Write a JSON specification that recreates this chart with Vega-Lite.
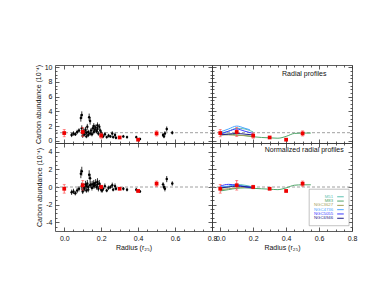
{
"$schema": "https://vega.github.io/schema/vega-lite/v6.json",
"background": "white",
"padding": {"left": 34, "top": 63, "right": 30, "bottom": 30},
"config": {
  "view": {"stroke": null},
  "font": "Liberation Sans",
  "axis": {"grid": false, "domainColor": "#333", "tickColor": "#333", "domainWidth": 0.8, "tickWidth": 0.8,
    "labelFont": "Liberation Sans", "labelFontSize": 7, "labelColor": "#111", "labelPadding": 7,
    "titleFont": "Liberation Sans", "titleFontSize": 7, "titleFontWeight": "normal", "titleColor": "#111",
    "labelFlush": false, "labelOverlap": false}
},
"datasets": {
  "pts": [
    {"x":0.04,"t":0.8,"te":0.3,"b":-0.6,"be":0.3},
    {"x":0.05,"t":1.0,"te":0.3,"b":-0.5,"be":0.3},
    {"x":0.06,"t":0.9,"te":0.25,"b":-0.7,"be":0.25},
    {"x":0.07,"t":1.2,"te":0.3,"b":-0.4,"be":0.3},
    {"x":0.08,"t":1.4,"te":0.3,"b":-0.2,"be":0.3},
    {"x":0.09,"t":3.1,"te":0.5,"b":1.5,"be":0.5},
    {"x":0.095,"t":3.5,"te":0.5,"b":1.8,"be":0.5},
    {"x":0.095,"t":1.7,"te":0.4,"b":0.1,"be":0.4},
    {"x":0.1,"t":1.0,"te":0.3,"b":-0.3,"be":0.3},
    {"x":0.1,"t":0.7,"te":0.3,"b":-0.5,"be":0.3},
    {"x":0.105,"t":1.3,"te":0.4,"b":0.0,"be":0.4},
    {"x":0.11,"t":0.9,"te":0.3,"b":-0.2,"be":0.3},
    {"x":0.115,"t":1.5,"te":0.4,"b":0.3,"be":0.4},
    {"x":0.12,"t":1.1,"te":0.3,"b":0.1,"be":0.3},
    {"x":0.12,"t":0.6,"te":0.25,"b":-0.4,"be":0.25},
    {"x":0.125,"t":1.9,"te":0.4,"b":0.4,"be":0.4},
    {"x":0.13,"t":1.2,"te":0.3,"b":0.0,"be":0.3},
    {"x":0.13,"t":0.8,"te":0.3,"b":-0.3,"be":0.3},
    {"x":0.135,"t":3.2,"te":0.5,"b":1.4,"be":0.5},
    {"x":0.14,"t":2.7,"te":0.5,"b":1.0,"be":0.5},
    {"x":0.14,"t":1.0,"te":0.3,"b":0.2,"be":0.3},
    {"x":0.145,"t":1.4,"te":0.35,"b":0.3,"be":0.35},
    {"x":0.15,"t":0.9,"te":0.3,"b":-0.1,"be":0.3},
    {"x":0.155,"t":1.7,"te":0.4,"b":0.3,"be":0.4},
    {"x":0.16,"t":1.2,"te":0.3,"b":0.1,"be":0.3},
    {"x":0.16,"t":2.0,"te":0.4,"b":0.4,"be":0.4},
    {"x":0.165,"t":1.5,"te":0.35,"b":0.2,"be":0.35},
    {"x":0.17,"t":1.8,"te":0.4,"b":0.5,"be":0.4},
    {"x":0.175,"t":1.3,"te":0.3,"b":0.0,"be":0.3},
    {"x":0.18,"t":2.1,"te":0.4,"b":0.6,"be":0.4},
    {"x":0.18,"t":1.6,"te":0.35,"b":0.3,"be":0.35},
    {"x":0.185,"t":1.0,"te":0.3,"b":-0.2,"be":0.3},
    {"x":0.19,"t":1.9,"te":0.4,"b":0.4,"be":0.4},
    {"x":0.195,"t":1.4,"te":0.3,"b":0.1,"be":0.3},
    {"x":0.2,"t":1.1,"te":0.3,"b":-0.3,"be":0.3},
    {"x":0.205,"t":0.8,"te":0.25,"b":-0.4,"be":0.25},
    {"x":0.21,"t":0.6,"te":0.25,"b":-0.2,"be":0.25},
    {"x":0.22,"t":0.9,"te":0.3,"b":0.1,"be":0.3},
    {"x":0.23,"t":0.5,"te":0.2,"b":-0.4,"be":0.2},
    {"x":0.24,"t":0.7,"te":0.25,"b":-0.1,"be":0.25},
    {"x":0.25,"t":0.6,"te":0.2,"b":0.0,"be":0.2},
    {"x":0.26,"t":1.0,"te":0.3,"b":0.2,"be":0.3},
    {"x":0.265,"t":0.5,"te":0.2,"b":-0.3,"be":0.2},
    {"x":0.275,"t":0.8,"te":0.3,"b":0.1,"be":0.3},
    {"x":0.28,"t":0.4,"te":0.2,"b":-0.2,"be":0.2},
    {"x":0.32,"t":0.6,"te":0.2,"b":-0.2,"be":0.2},
    {"x":0.34,"t":0.5,"te":0.2,"b":-0.3,"be":0.2},
    {"x":0.39,"t":0.5,"te":0.2,"b":-0.3,"be":0.2},
    {"x":0.41,"t":0.25,"te":0.15,"b":-0.5,"be":0.15},
    {"x":0.535,"t":0.8,"te":0.25,"b":0.3,"be":0.25},
    {"x":0.54,"t":0.6,"te":0.25,"b":0.0,"be":0.25},
    {"x":0.545,"t":1.0,"te":0.3,"b":-0.2,"be":0.3},
    {"x":0.555,"t":1.6,"te":0.35,"b":0.9,"be":0.35},
    {"x":0.585,"t":1.1,"te":0.25,"b":0.4,"be":0.25}
  ],
  "red": [
    {"x":0.0,"t":1.05,"te":0.5,"b":-0.2,"be":0.5},
    {"x":0.1,"t":1.2,"te":0.6,"b":0.2,"be":0.55},
    {"x":0.2,"t":0.7,"te":0.35,"b":0.0,"be":0.2},
    {"x":0.3,"t":0.45,"te":0.1,"b":-0.2,"be":0.1},
    {"x":0.4,"t":0.15,"te":0.1,"b":-0.45,"be":0.1},
    {"x":0.5,"t":1.0,"te":0.35,"b":0.38,"be":0.3}
  ],
  "lines": [
    {"g":"M51","x":0.0,"t":1.0,"b":-0.2},{"g":"M51","x":0.05,"t":1.3,"b":0.05},{"g":"M51","x":0.1,"t":1.7,"b":0.3},{"g":"M51","x":0.15,"t":1.6,"b":0.2},{"g":"M51","x":0.2,"t":1.2,"b":0.0},
    {"g":"M83","x":0.0,"t":0.9,"b":-0.45},{"g":"M83","x":0.05,"t":0.9,"b":-0.3},{"g":"M83","x":0.1,"t":0.8,"b":-0.15},{"g":"M83","x":0.15,"t":0.7,"b":-0.1},{"g":"M83","x":0.2,"t":0.55,"b":-0.15},{"g":"M83","x":0.25,"t":0.45,"b":-0.2},{"g":"M83","x":0.3,"t":0.4,"b":-0.25},{"g":"M83","x":0.35,"t":0.35,"b":-0.3},{"g":"M83","x":0.4,"t":0.6,"b":-0.1},{"g":"M83","x":0.45,"t":1.0,"b":0.2},{"g":"M83","x":0.5,"t":1.05,"b":0.25},{"g":"M83","x":0.55,"t":1.05,"b":0.25},
    {"g":"NGC3627","x":0.0,"t":0.8,"b":-0.3},{"g":"NGC3627","x":0.05,"t":0.8,"b":-0.2},{"g":"NGC3627","x":0.1,"t":0.75,"b":-0.1},{"g":"NGC3627","x":0.15,"t":0.7,"b":-0.05},{"g":"NGC3627","x":0.2,"t":0.6,"b":-0.1},
    {"g":"NGC4736","x":0.0,"t":1.2,"b":0.0},{"g":"NGC4736","x":0.05,"t":1.6,"b":0.1},{"g":"NGC4736","x":0.1,"t":2.0,"b":0.2},{"g":"NGC4736","x":0.15,"t":1.7,"b":0.1},{"g":"NGC4736","x":0.18,"t":1.5,"b":0.05},
    {"g":"NGC5055","x":0.0,"t":0.9,"b":0.1},{"g":"NGC5055","x":0.05,"t":1.3,"b":0.3},{"g":"NGC5055","x":0.1,"t":1.6,"b":0.2},{"g":"NGC5055","x":0.15,"t":1.3,"b":0.0},{"g":"NGC5055","x":0.2,"t":1.0,"b":-0.1},
    {"g":"NGC6946","x":0.0,"t":0.8,"b":-0.1},{"g":"NGC6946","x":0.05,"t":0.9,"b":0.0},{"g":"NGC6946","x":0.1,"t":1.0,"b":0.1},{"g":"NGC6946","x":0.15,"t":0.9,"b":0.05},{"g":"NGC6946","x":0.2,"t":0.8,"b":-0.05}
  ],
  "gal": [{"g":"M51"},{"g":"M83"},{"g":"NGC3627"},{"g":"NGC4736"},{"g":"NGC5055"},{"g":"NGC6946"}]
},
"spacing": 0,
"bounds": "flush",
"columns": 2,
"resolve": {"scale": {"color": "independent"}, "legend": {"color": "independent"}},
"concat": [
  {"width": 157, "height": 78,
   "resolve": {"axis": {"x": "independent", "y": "independent"}},
   "layer": [
    {"data":{"values":[{}]},"mark":{"type":"point","opacity":0},"encoding":{
      "x":{"datum":0,"type":"quantitative","scale":{"domain":[-0.05,0.8],"nice":false,"zero":false},"axis":{"orient":"bottom","values":[0,0.2,0.4,0.6,0.8],"tickSize":-4,"labels":false,"title":null}},
      "y":{"datum":0,"type":"quantitative","scale":{"domain":[-0.3,10.3],"nice":false,"zero":false},"axis":{"orient":"left","values":[0,2,4,6,8,10],"tickSize":-4,"labelExpr":"''+datum.value","title":"Carbon abundance (10⁻⁴)","titlePadding":3}}}},
    {"data":{"values":[{}]},"mark":{"type":"point","opacity":0},"encoding":{
      "x":{"datum":0,"type":"quantitative","axis":{"orient":"top","values":[0,0.2,0.4,0.6,0.8],"tickSize":-4,"labels":false,"title":null}},
      "y":{"datum":0,"type":"quantitative","axis":{"orient":"right","values":[0,2,4,6,8,10],"tickSize":-4,"labels":false,"title":null}}}},
    {"data":{"values":[{}]},"mark":{"type":"point","opacity":0},"encoding":{
      "x":{"datum":0,"type":"quantitative","axis":{"orient":"bottom","values":[0.05,0.1,0.15,0.25,0.3,0.35,0.45,0.5,0.55,0.65,0.7,0.75],"tickSize":-2,"labels":false,"domain":false,"title":null}},
      "y":{"datum":0,"type":"quantitative","axis":{"orient":"left","values":[0.5,1,1.5,2.5,3,3.5,4.5,5,5.5,6.5,7,7.5,8.5,9,9.5],"tickSize":-2,"labels":false,"domain":false,"title":null}}}},
    {"data":{"values":[{}]},"mark":{"type":"point","opacity":0},"encoding":{
      "x":{"datum":0,"type":"quantitative","axis":{"orient":"top","values":[0.05,0.1,0.15,0.25,0.3,0.35,0.45,0.5,0.55,0.65,0.7,0.75],"tickSize":-2,"labels":false,"domain":false,"title":null}},
      "y":{"datum":0,"type":"quantitative","axis":{"orient":"right","values":[0.5,1,1.5,2.5,3,3.5,4.5,5,5.5,6.5,7,7.5,8.5,9,9.5],"tickSize":-2,"labels":false,"domain":false,"title":null}}}},
    {"data":{"values":[{"a":-0.05,"c":0.8,"y":1.1}]},"mark":{"type":"rule","strokeDash":[3,2],"color":"#888","strokeWidth":0.8},"encoding":{
      "x":{"field":"a","type":"quantitative","axis":null},"x2":{"field":"c"},"y":{"field":"y","type":"quantitative","axis":null}}},
    {"data":{"name":"pts"},"mark":{"type":"errorbar","color":"#000","thickness":0.8},"encoding":{
      "x":{"field":"x","type":"quantitative","axis":null},"y":{"field":"t","type":"quantitative","axis":null},"yError":{"field":"te"}}},
    {"data":{"name":"pts"},"mark":{"type":"circle","color":"#000","size":6,"opacity":1},"encoding":{
      "x":{"field":"x","type":"quantitative","axis":null},"y":{"field":"t","type":"quantitative","axis":null}}},
    {"data":{"name":"red"},"mark":{"type":"errorbar","color":"#ff4a4a","thickness":0.8,"ticks":true,"size":3},"encoding":{
      "x":{"field":"x","type":"quantitative","axis":null},"y":{"field":"t","type":"quantitative","axis":null},"yError":{"field":"te"}}},
    {"data":{"name":"red"},"mark":{"type":"square","color":"#ee0000","size":14,"opacity":1},"encoding":{
      "x":{"field":"x","type":"quantitative","axis":null},"y":{"field":"t","type":"quantitative","axis":null}}}
   ]},
  {"width": 140, "height": 78,
   "resolve": {"axis": {"x": "independent", "y": "independent"}},
   "layer": [
    {"data":{"values":[{}]},"mark":{"type":"point","opacity":0},"encoding":{
      "x":{"datum":0,"type":"quantitative","scale":{"domain":[-0.05,0.8],"nice":false,"zero":false},"axis":{"orient":"bottom","values":[0,0.2,0.4,0.6,0.8],"tickSize":-4,"labels":false,"title":null}},
      "y":{"datum":0,"type":"quantitative","scale":{"domain":[-0.3,10.3],"nice":false,"zero":false},"axis":{"orient":"left","values":[0,2,4,6,8,10],"tickSize":-4,"labels":false,"title":null}}}},
    {"data":{"values":[{}]},"mark":{"type":"point","opacity":0},"encoding":{
      "x":{"datum":0,"type":"quantitative","axis":{"orient":"top","values":[0,0.2,0.4,0.6,0.8],"tickSize":-4,"labels":false,"title":null}},
      "y":{"datum":0,"type":"quantitative","axis":{"orient":"right","values":[0,2,4,6,8,10],"tickSize":-4,"labels":false,"title":null}}}},
    {"data":{"values":[{}]},"mark":{"type":"point","opacity":0},"encoding":{
      "x":{"datum":0,"type":"quantitative","axis":{"orient":"bottom","values":[0.05,0.1,0.15,0.25,0.3,0.35,0.45,0.5,0.55,0.65,0.7,0.75],"tickSize":-2,"labels":false,"domain":false,"title":null}},
      "y":{"datum":0,"type":"quantitative","axis":{"orient":"left","values":[0.5,1,1.5,2.5,3,3.5,4.5,5,5.5,6.5,7,7.5,8.5,9,9.5],"tickSize":-2,"labels":false,"domain":false,"title":null}}}},
    {"data":{"values":[{}]},"mark":{"type":"point","opacity":0},"encoding":{
      "x":{"datum":0,"type":"quantitative","axis":{"orient":"top","values":[0.05,0.1,0.15,0.25,0.3,0.35,0.45,0.5,0.55,0.65,0.7,0.75],"tickSize":-2,"labels":false,"domain":false,"title":null}},
      "y":{"datum":0,"type":"quantitative","axis":{"orient":"right","values":[0.5,1,1.5,2.5,3,3.5,4.5,5,5.5,6.5,7,7.5,8.5,9,9.5],"tickSize":-2,"labels":false,"domain":false,"title":null}}}},
    {"data":{"values":[{"a":-0.05,"c":0.8,"y":1.1}]},"mark":{"type":"rule","strokeDash":[3,2],"color":"#888","strokeWidth":0.8},"encoding":{
      "x":{"field":"a","type":"quantitative","axis":null},"x2":{"field":"c"},"y":{"field":"y","type":"quantitative","axis":null}}},
    {"data":{"name":"lines"},"mark":{"type":"line","strokeWidth":1,"interpolate":"monotone"},"encoding":{
      "x":{"field":"x","type":"quantitative","axis":null},"y":{"field":"t","type":"quantitative","axis":null},
      "color":{"field":"g","type":"nominal","scale":{"domain":["M51","M83","NGC3627","NGC4736","NGC5055","NGC6946"],"range":["#5fc2b2","#52a66a","#a0a05a","#4aa6ff","#3a3aff","#20208a"]},"legend":null}}},
    {"data":{"name":"red"},"mark":{"type":"errorbar","color":"#ff4a4a","thickness":0.8,"ticks":true,"size":3},"encoding":{
      "x":{"field":"x","type":"quantitative","axis":null},"y":{"field":"t","type":"quantitative","axis":null},"yError":{"field":"te"}}},
    {"data":{"name":"red"},"mark":{"type":"square","color":"#ee0000","size":14,"opacity":1},"encoding":{
      "x":{"field":"x","type":"quantitative","axis":null},"y":{"field":"t","type":"quantitative","axis":null}}},
    {"data":{"values":[{"x":0.51,"y":9.1,"s":"Radial profiles"}]},"mark":{"type":"text","fontSize":7,"align":"center","baseline":"middle","color":"#111"},"encoding":{
      "x":{"field":"x","type":"quantitative","axis":null},"y":{"field":"y","type":"quantitative","axis":null},"text":{"field":"s"}}}
   ]},
  {"width": 157, "height": 88,
   "resolve": {"axis": {"x": "independent", "y": "independent"}},
   "layer": [
    {"data":{"values":[{}]},"mark":{"type":"point","opacity":0},"encoding":{
      "x":{"datum":0,"type":"quantitative","scale":{"domain":[-0.05,0.8],"nice":false,"zero":false},"axis":{"orient":"bottom","values":[0,0.2,0.4,0.6,0.8],"tickSize":-4,"format":".1f","title":"Radius (r₂₅)","titlePadding":2}},
      "y":{"datum":0,"type":"quantitative","scale":{"domain":[-5,5],"nice":false,"zero":false},"axis":{"orient":"left","values":[-4,-2,0,2,4],"tickSize":-4,"labelExpr":"''+datum.value","title":"Carbon abundance (10⁻⁴)","titlePadding":3}}}},
    {"data":{"values":[{}]},"mark":{"type":"point","opacity":0},"encoding":{
      "x":{"datum":0,"type":"quantitative","axis":{"orient":"top","values":[0,0.2,0.4,0.6,0.8],"tickSize":-4,"labels":false,"title":null}},
      "y":{"datum":0,"type":"quantitative","axis":{"orient":"right","values":[-4,-2,0,2,4],"tickSize":-4,"labels":false,"title":null}}}},
    {"data":{"values":[{}]},"mark":{"type":"point","opacity":0},"encoding":{
      "x":{"datum":0,"type":"quantitative","axis":{"orient":"bottom","values":[0.05,0.1,0.15,0.25,0.3,0.35,0.45,0.5,0.55,0.65,0.7,0.75],"tickSize":-2,"labels":false,"domain":false,"title":null}},
      "y":{"datum":0,"type":"quantitative","axis":{"orient":"left","values":[-4.5,-3.5,-3,-2.5,-1.5,-1,-0.5,0.5,1,1.5,2.5,3,3.5,4.5],"tickSize":-2,"labels":false,"domain":false,"title":null}}}},
    {"data":{"values":[{}]},"mark":{"type":"point","opacity":0},"encoding":{
      "x":{"datum":0,"type":"quantitative","axis":{"orient":"top","values":[0.05,0.1,0.15,0.25,0.3,0.35,0.45,0.5,0.55,0.65,0.7,0.75],"tickSize":-2,"labels":false,"domain":false,"title":null}},
      "y":{"datum":0,"type":"quantitative","axis":{"orient":"right","values":[-4.5,-3.5,-3,-2.5,-1.5,-1,-0.5,0.5,1,1.5,2.5,3,3.5,4.5],"tickSize":-2,"labels":false,"domain":false,"title":null}}}},
    {"data":{"values":[{"a":-0.05,"c":0.8,"y":0}]},"mark":{"type":"rule","strokeDash":[3,2],"color":"#888","strokeWidth":0.8},"encoding":{
      "x":{"field":"a","type":"quantitative","axis":null},"x2":{"field":"c"},"y":{"field":"y","type":"quantitative","axis":null}}},
    {"data":{"name":"pts"},"mark":{"type":"errorbar","color":"#000","thickness":0.8},"encoding":{
      "x":{"field":"x","type":"quantitative","axis":null},"y":{"field":"b","type":"quantitative","axis":null},"yError":{"field":"be"}}},
    {"data":{"name":"pts"},"mark":{"type":"circle","color":"#000","size":6,"opacity":1},"encoding":{
      "x":{"field":"x","type":"quantitative","axis":null},"y":{"field":"b","type":"quantitative","axis":null}}},
    {"data":{"name":"red"},"mark":{"type":"errorbar","color":"#ff4a4a","thickness":0.8,"ticks":true,"size":3},"encoding":{
      "x":{"field":"x","type":"quantitative","axis":null},"y":{"field":"b","type":"quantitative","axis":null},"yError":{"field":"be"}}},
    {"data":{"name":"red"},"mark":{"type":"square","color":"#ee0000","size":14,"opacity":1},"encoding":{
      "x":{"field":"x","type":"quantitative","axis":null},"y":{"field":"b","type":"quantitative","axis":null}}}
   ]},
  {"width": 140, "height": 88,
   "resolve": {"axis": {"x": "independent", "y": "independent"}},
   "layer": [
    {"data":{"values":[{}]},"mark":{"type":"point","opacity":0},"encoding":{
      "x":{"datum":0,"type":"quantitative","scale":{"domain":[-0.05,0.8],"nice":false,"zero":false},"axis":{"orient":"bottom","values":[0,0.2,0.4,0.6,0.8],"tickSize":-4,"format":".1f","title":"Radius (r₂₅)","titlePadding":2}},
      "y":{"datum":0,"type":"quantitative","scale":{"domain":[-5,5],"nice":false,"zero":false},"axis":{"orient":"left","values":[-4,-2,0,2,4],"tickSize":-4,"labels":false,"title":null}}}},
    {"data":{"values":[{}]},"mark":{"type":"point","opacity":0},"encoding":{
      "x":{"datum":0,"type":"quantitative","axis":{"orient":"top","values":[0,0.2,0.4,0.6,0.8],"tickSize":-4,"labels":false,"title":null}},
      "y":{"datum":0,"type":"quantitative","axis":{"orient":"right","values":[-4,-2,0,2,4],"tickSize":-4,"labels":false,"title":null}}}},
    {"data":{"values":[{}]},"mark":{"type":"point","opacity":0},"encoding":{
      "x":{"datum":0,"type":"quantitative","axis":{"orient":"bottom","values":[0.05,0.1,0.15,0.25,0.3,0.35,0.45,0.5,0.55,0.65,0.7,0.75],"tickSize":-2,"labels":false,"domain":false,"title":null}},
      "y":{"datum":0,"type":"quantitative","axis":{"orient":"left","values":[-4.5,-3.5,-3,-2.5,-1.5,-1,-0.5,0.5,1,1.5,2.5,3,3.5,4.5],"tickSize":-2,"labels":false,"domain":false,"title":null}}}},
    {"data":{"values":[{}]},"mark":{"type":"point","opacity":0},"encoding":{
      "x":{"datum":0,"type":"quantitative","axis":{"orient":"top","values":[0.05,0.1,0.15,0.25,0.3,0.35,0.45,0.5,0.55,0.65,0.7,0.75],"tickSize":-2,"labels":false,"domain":false,"title":null}},
      "y":{"datum":0,"type":"quantitative","axis":{"orient":"right","values":[-4.5,-3.5,-3,-2.5,-1.5,-1,-0.5,0.5,1,1.5,2.5,3,3.5,4.5],"tickSize":-2,"labels":false,"domain":false,"title":null}}}},
    {"data":{"values":[{"a":-0.05,"c":0.8,"y":0}]},"mark":{"type":"rule","strokeDash":[3,2],"color":"#888","strokeWidth":0.8},"encoding":{
      "x":{"field":"a","type":"quantitative","axis":null},"x2":{"field":"c"},"y":{"field":"y","type":"quantitative","axis":null}}},
    {"data":{"name":"lines"},"mark":{"type":"line","strokeWidth":1,"interpolate":"monotone"},"encoding":{
      "x":{"field":"x","type":"quantitative","axis":null},"y":{"field":"b","type":"quantitative","axis":null},
      "color":{"field":"g","type":"nominal","scale":{"domain":["M51","M83","NGC3627","NGC4736","NGC5055","NGC6946"],"range":["#5fc2b2","#52a66a","#a0a05a","#4aa6ff","#3a3aff","#20208a"]},"legend":null}}},
    {"data":{"name":"red"},"mark":{"type":"errorbar","color":"#ff4a4a","thickness":0.8,"ticks":true,"size":3},"encoding":{
      "x":{"field":"x","type":"quantitative","axis":null},"y":{"field":"b","type":"quantitative","axis":null},"yError":{"field":"be"}}},
    {"data":{"name":"red"},"mark":{"type":"square","color":"#ee0000","size":14,"opacity":1},"encoding":{
      "x":{"field":"x","type":"quantitative","axis":null},"y":{"field":"b","type":"quantitative","axis":null}}},
    {"data":{"values":[{"x":0.51,"y":4.2,"s":"Normalized radial profiles"}]},"mark":{"type":"text","fontSize":7,"align":"center","baseline":"middle","color":"#111"},"encoding":{
      "x":{"field":"x","type":"quantitative","axis":null},"y":{"field":"y","type":"quantitative","axis":null},"text":{"field":"s"}}},
    {"data":{"values":[{}]},"mark":{"type":"rect","fill":"white","stroke":"#999","strokeWidth":0.6},"encoding":{
      "x":{"datum":0.54,"type":"quantitative","axis":null},"x2":{"datum":0.782},
      "y":{"datum":-0.25,"type":"quantitative","axis":null},"y2":{"datum":-4.4}}},
    {"data":{"name":"gal"},"mark":{"type":"text","fontSize":4.3,"align":"right","baseline":"middle"},"encoding":{
      "x":{"datum":0.685,"type":"quantitative","axis":null},
      "y":{"datum":-1.11,"type":"quantitative","axis":null},
      "yOffset":{"field":"g","type":"nominal","scale":{"type":"point","range":[0,21.5],"padding":0}},
      "text":{"field":"g"},
      "color":{"field":"g","type":"nominal","legend":null}}},
    {"data":{"name":"gal"},"mark":{"type":"rule","strokeWidth":1},"encoding":{
      "x":{"datum":0.71,"type":"quantitative","axis":null},"x2":{"datum":0.75},
      "y":{"datum":-1.11,"type":"quantitative","axis":null},
      "yOffset":{"field":"g","type":"nominal","scale":{"type":"point","range":[0,21.5],"padding":0}},
      "color":{"field":"g","type":"nominal","legend":null}}}
   ]}
]
}
